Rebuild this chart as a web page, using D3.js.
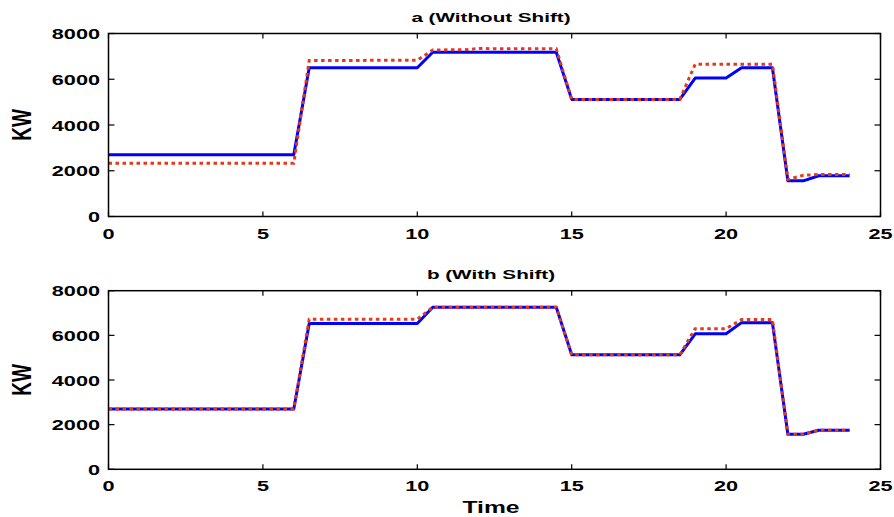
<!DOCTYPE html>
<html>
<head>
<meta charset="utf-8">
<script src="https://cdn.jsdelivr.net/npm/d3@7/dist/d3.min.js"></script>
<style>
  html, body { margin: 0; padding: 0; background: #fff; }
  svg { display: block; }
  text { font-family: "Liberation Sans", Arial, Helvetica, sans-serif; font-weight: bold; fill: #000; }
</style>
</head>
<body>
<svg id="chart" width="894" height="517"></svg>
<script>
// Hour of day at each breakpoint of the load profiles
const hours = [0, 6, 6.5, 10, 10.5, 11.5, 12, 14.5, 15, 18.5, 19, 20, 20.5, 21.5, 22, 22.5, 23, 24];

// Panel a (Without Shift)
const withoutShiftSolid  = [2700, 2700, 6500, 6500, 7180, 7180, 7180, 7180, 5120, 5120, 6050, 6050, 6500, 6500, 1560, 1560, 1780, 1780];
const withoutShiftDotted = [2330, 2330, 6820, 6830, 7280, 7290, 7340, 7330, 5120, 5120, 6660, 6660, 6660, 6660, 1620, 1800, 1840, 1840];

// Panel b (With Shift)
const withShiftSolid  = [2700, 2700, 6530, 6530, 7260, 7260, 7260, 7260, 5130, 5130, 6070, 6070, 6570, 6570, 1570, 1570, 1750, 1750];
const withShiftDotted = [2700, 2700, 6720, 6720, 7260, 7260, 7260, 7260, 5130, 5130, 6300, 6300, 6710, 6710, 1570, 1570, 1750, 1750];

const xTicks = [0, 5, 10, 15, 20, 25];
const yTicks = [0, 2000, 4000, 6000, 8000];
const panelTitles = ["a (Without Shift)", "b (With Shift)"];
const yLabel = "KW";
const xLabel = "Time";

const svg = d3.select("#chart");
const left = 108.5, right = 880.5;
const panels = [
  { top: 33.5, bottom: 216.5, title: panelTitles[0], solid: withoutShiftSolid, dotted: withoutShiftDotted, titleY: 22, tickY: 238.5 },
  { top: 290.7, bottom: 469.3, title: panelTitles[1], solid: withShiftSolid, dotted: withShiftDotted, titleY: 278.5, tickY: 491 }
];

const x = d3.scaleLinear().domain([0, 25]).range([left, right]);

// Bold text with the wide horizontal proportions of the figure
function wideText(g, px, py, str, size, sx, anchor, rotate) {
  return g.append("text")
    .attr("transform", `translate(${px},${py}) scale(${sx},1)` + (rotate ? ` rotate(${rotate})` : ""))
    .attr("text-anchor", anchor)
    .style("font-size", size + "px")
    .text(str);
}

panels.forEach(p => {
  const y = d3.scaleLinear().domain([0, 8000]).range([p.bottom, p.top]);
  const g = svg.append("g");

  // plotted series
  const line = d3.line().x((d, i) => x(hours[i])).y(d => y(d));
  g.append("path").datum(p.solid)
    .attr("d", line).attr("fill", "none")
    .attr("stroke", "#0000ff").attr("stroke-width", 3).attr("stroke-linejoin", "round");
  g.append("path").datum(p.dotted)
    .attr("d", line).attr("fill", "none")
    .attr("stroke", "#e63a17").attr("stroke-width", 3)
    .attr("stroke-dasharray", "3.5,3.5");

  // axes box
  g.append("rect")
    .attr("x", left).attr("y", p.top)
    .attr("width", right - left).attr("height", p.bottom - p.top)
    .attr("fill", "none").attr("stroke", "#000").attr("stroke-width", 1.5);

  // inward ticks on all four sides
  xTicks.forEach(t => {
    g.append("line").attr("x1", x(t)).attr("x2", x(t)).attr("y1", p.bottom).attr("y2", p.bottom - 5)
      .attr("stroke", "#000").attr("stroke-width", 1.2);
    g.append("line").attr("x1", x(t)).attr("x2", x(t)).attr("y1", p.top).attr("y2", p.top + 5)
      .attr("stroke", "#000").attr("stroke-width", 1.2);
    wideText(g, x(t), p.tickY, String(t), 15.5, 1.4, "middle");
  });
  yTicks.forEach(t => {
    g.append("line").attr("x1", left).attr("x2", left + 6).attr("y1", y(t)).attr("y2", y(t))
      .attr("stroke", "#000").attr("stroke-width", 1.2);
    g.append("line").attr("x1", right).attr("x2", right - 6).attr("y1", y(t)).attr("y2", y(t))
      .attr("stroke", "#000").attr("stroke-width", 1.2);
    wideText(g, 100, y(t) + 5.5, String(t), 15.5, 1.4, "end");
  });

  // panel title and y label
  wideText(g, 491, p.titleY, p.title, 13.5, 1.53, "middle");
  wideText(g, 30.5, (p.top + p.bottom) / 2, yLabel, 19, 1.45, "middle", -90);
});

wideText(svg, 491, 513, xLabel, 17, 1.45, "middle");
</script>
</body>
</html>
